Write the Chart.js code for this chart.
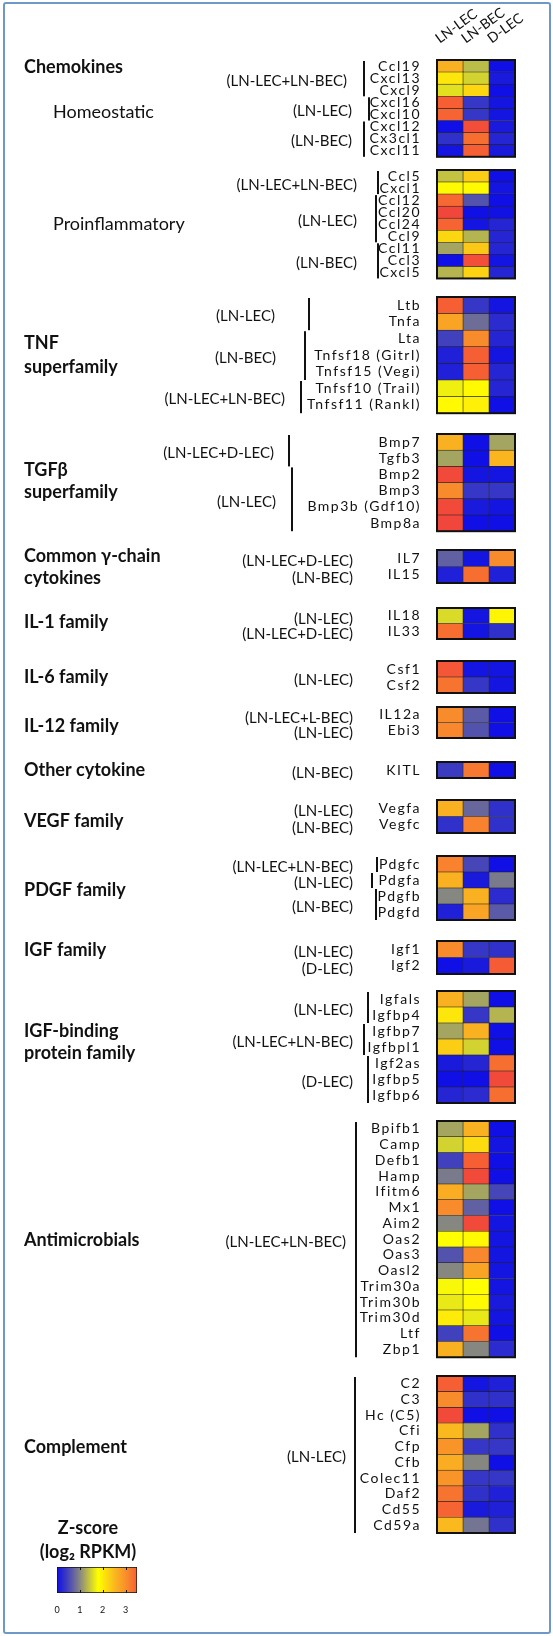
<!DOCTYPE html>
<html>
<head>
<meta charset="utf-8">
<script src="https://cdn.jsdelivr.net/npm/chart.js@4.4.1/dist/chart.umd.min.js"></script>
<style>
  html, body { margin: 0; padding: 0; background: #fff; }
  #page { position: relative; width: 553px; height: 1636px; overflow: hidden; }
  #frame { position: absolute; left: 3px; top: 2px; width: 548px; height: 1632px; box-sizing: border-box;
           border: 2px solid #6f98c8; border-radius: 3px; }
  canvas { position: absolute; left: 0; }
</style>
</head>
<body>
<div id="page"><div id="frame"></div></div>
<script>
// ---- data ----------------------------------------------------------
const columns = ['LN-LEC', 'LN-BEC', 'D-LEC'];

// Z-scores per gene: [LN-LEC, LN-BEC, D-LEC]
const homeoGenes = ['Ccl19', 'Cxcl13', 'Cxcl9', 'Cxcl16', 'Cxcl10', 'Cxcl12', 'Cx3cl1', 'Cxcl11'];
const homeoZ = [[2.6, 1.35, 0], [2.05, 1.5, 0.1], [1.6, 2.2, 0], [3.5, 0.35, 0.05],
                [3.45, 0.35, 0.05], [0, 3.7, 0.1], [0.3, 3.35, 0.2], [0.05, 3.5, 0.1]];
const homeoGroups = [['(LN-LEC+LN-BEC)', 0, 2], ['(LN-LEC)', 3, 4], ['(LN-BEC)', 5, 7]];

const inflamGenes = ['Ccl5', 'Cxcl1', 'Ccl12', 'Ccl20', 'Ccl24', 'Ccl9', 'Ccl11', 'Ccl3', 'Cxcl5'];
const inflamZ = [[1.4, 2.3, 0], [1.85, 1.85, 0.05], [3.4, 0.6, 0], [3.8, 0, 0.02], [3.45, 0.05, 0.2],
                 [2.2, 1.3, 0.2], [1.2, 2.35, 0.2], [0, 3.7, 0.05], [1.3, 2.25, 0.2]];
const inflamGroups = [['(LN-LEC+LN-BEC)', 0, 1], ['(LN-LEC)', 2, 5], ['(LN-BEC)', 6, 8]];

const tnfGenes = ['Ltb', 'Tnfa', 'Lta', 'Tnfsf18 (Gitrl)', 'Tnfsf15 (Vegi)', 'Tnfsf10 (Trail)', 'Tnfsf11 (Rankl)'];
const tnfZ = [[3.5, 0.35, 0.05], [2.75, 0.8, 0.25], [0.45, 3.05, 0.2], [0.15, 3.5, 0.05],
              [0.15, 3.5, 0.2], [1.7, 1.85, 0.2], [1.85, 1.95, 0]];
const tnfGroups = [['(LN-LEC)', 0, 1], ['(LN-BEC)', 2, 4], ['(LN-LEC+LN-BEC)', 5, 6]];

const tgfGenes = ['Bmp7', 'Tgfb3', 'Bmp2', 'Bmp3', 'Bmp3b (Gdf10)', 'Bmp8a'];
const tgfZ = [[2.6, 0, 1.2], [1.2, 0, 2.55], [3.75, 0.05, 0.05], [3.05, 0.35, 0.35], [3.75, 0.1, 0.05], [3.8, 0, 0]];
const tgfGroups = [['(LN-LEC+D-LEC)', 0, 1], ['(LN-LEC)', 2, 5]];

const gammaGenes = ['IL7', 'IL15'];
const gammaZ = [[0.7, 0.05, 3.05], [0.15, 3.35, 0.15]];
const gammaGroups = [['(LN-LEC+D-LEC)', 0, 0], ['(LN-BEC)', 1, 1]];

const il1Genes = ['IL18', 'IL33'];
const il1Z = [[1.55, 0.05, 1.9], [3.35, 0.05, 0.3]];
const il1Groups = [['(LN-LEC)', 0, 0], ['(LN-LEC+D-LEC)', 1, 1]];

const il6Genes = ['Csf1', 'Csf2'];
const il6Z = [[3.6, 0.05, 0.05], [3.3, 0.35, 0.05]];
const il6Groups = [['(LN-LEC)', 0, 1]];

const il12Genes = ['IL12a', 'Ebi3'];
const il12Z = [[3.05, 0.65, 0], [3.1, 0.6, 0]];
const il12Groups = [['(LN-LEC+L-BEC)', 0, 0], ['(LN-LEC)', 1, 1]];

const otherGenes = ['KITL'];
const otherZ = [[0.4, 3.25, 0]];
const otherGroups = [['(LN-BEC)', 0, 0]];

const vegfGenes = ['Vegfa', 'Vegfc'];
const vegfZ = [[2.6, 0.75, 0.3], [0.3, 3.15, 0.3]];
const vegfGroups = [['(LN-LEC)', 0, 0], ['(LN-BEC)', 1, 1]];

const pdgfGenes = ['Pdgfc', 'Pdgfa', 'Pdgfb', 'Pdgfd'];
const pdgfZ = [[3.15, 0.5, 0], [2.6, 0.1, 0.9], [1.0, 2.6, 0.25], [0.15, 2.75, 0.65]];
const pdgfGroups = [['(LN-LEC+LN-BEC)', 0, 0], ['(LN-LEC)', 1, 1], ['(LN-BEC)', 2, 3]];

const igfGenes = ['Igf1', 'Igf2'];
const igfZ = [[3.05, 0.35, 0.3], [0, 0.1, 3.55]];
const igfGroups = [['(LN-LEC)', 0, 0], ['(D-LEC)', 1, 1]];

const igfbpGenes = ['Igfals', 'Igfbp4', 'Igfbp7', 'Igfbpl1', 'Igf2as', 'Igfbp5', 'Igfbp6'];
const igfbpZ = [[2.6, 1.2, 0], [2.05, 0.35, 1.3], [1.2, 2.6, 0], [2.3, 1.5, 0],
                [0.1, 0.2, 3.35], [0, 0, 3.75], [0.2, 0.25, 3.35]];
const igfbpGroups = [['(LN-LEC)', 0, 1], ['(LN-LEC+LN-BEC)', 2, 3], ['(D-LEC)', 4, 6]];

const antiGenes = ['Bpifb1', 'Camp', 'Defb1', 'Hamp', 'Ifitm6', 'Mx1', 'Aim2', 'Oas2', 'Oas3', 'Oasl2',
                   'Trim30a', 'Trim30b', 'Trim30d', 'Ltf', 'Zbp1'];
const antiZ = [[1.2, 2.6, 0], [1.5, 2.15, 0.05], [0.45, 3.5, 0], [0.9, 3.75, 0], [2.65, 1.2, 0.5],
               [3.05, 0.7, 0], [1.0, 3.75, 0.05], [1.8, 1.85, 0.05], [0.6, 3.1, 0.05], [1.0, 2.75, 0.05],
               [1.75, 1.8, 0.05], [1.65, 1.85, 0.1], [2.0, 1.65, 0.05], [0.45, 3.3, 0], [2.6, 1.0, 0.25]];
const antiGroups = [['(LN-LEC+LN-BEC)', 0, 14]];

const complGenes = ['C2', 'C3', 'Hc (C5)', 'Cfi', 'Cfp', 'Cfb', 'Colec11', 'Daf2', 'Cd55', 'Cd59a'];
const complZ = [[3.5, 0.05, 0.15], [3.05, 0.3, 0.3], [3.75, 0, 0], [2.5, 1.2, 0.3], [2.95, 0.35, 0.35],
                [2.65, 1.0, 0], [2.95, 0.35, 0.35], [3.3, 0.3, 0.15], [3.45, 0.1, 0.15], [2.5, 0.85, 0.3]];
const complGroups = [['(LN-LEC)', 0, 9]];

const colorbarTicks = [0, 1, 2, 3];
const colorbarMax = 3.5;

// colour scale (blue -> grey -> yellow -> orange -> red)
const zStops = [0, 0.5, 1.0, 1.8, 2.5, 3.1, 3.5, 3.9];
const zColors = [[15, 15, 230], [70, 70, 185], [135, 135, 130], [255, 255, 0],
                 [250, 185, 30], [248, 135, 45], [246, 95, 52], [238, 62, 62]];

function zColor(v) {
  if (v <= zStops[0]) return 'rgb(' + zColors[0].join(',') + ')';
  for (let i = 1; i < zStops.length; i++) {
    if (v <= zStops[i]) {
      const t = (v - zStops[i - 1]) / (zStops[i] - zStops[i - 1]);
      const a = zColors[i - 1], b = zColors[i];
      return 'rgb(' + a.map((c, k) => Math.round(c + (b[k] - c) * t)).join(',') + ')';
    }
  }
  return 'rgb(' + zColors[zColors.length - 1].join(',') + ')';
}

// ---- layout: block position, labels, brackets ------------------------
const blocks = [
  { genes: homeoGenes, z: homeoZ, groups: homeoGroups, top: 60, rowH: 12.1,
    labelX: [347, 352, 352], barX: [364, 369, 364],
    heads: [['Chemokines', 24, 67, true], ['Homeostatic', 53, 112, false]] },
  { genes: inflamGenes, z: inflamZ, groups: inflamGroups, top: 170, rowH: 12.05,
    labelX: [357, 357, 357], barX: [378, 376, 378],
    heads: [['Proinflammatory', 53, 224, false]] },
  { genes: tnfGenes, z: tnfZ, groups: tnfGroups, top: 297, rowH: 16.6,
    labelX: [275, 276, 285], barX: [309, 305, 301],
    heads: [['TNF', 24, 343, true], ['superfamily', 24, 367, true]] },
  { genes: tgfGenes, z: tgfZ, groups: tgfGroups, top: 434, rowH: 16.2,
    labelX: [274, 276], barX: [289, 292],
    heads: [['TGFβ', 24, 470, true], ['superfamily', 24, 492, true]] },
  { genes: gammaGenes, z: gammaZ, groups: gammaGroups, top: 550, rowH: 16.5,
    labelX: [353, 353], barX: null,
    heads: [['Common γ-chain', 24, 556, true], ['cytokines', 24, 578, true]] },
  { genes: il1Genes, z: il1Z, groups: il1Groups, top: 608, rowH: 15.5,
    labelX: [353, 353], barX: null, heads: [['IL-1 family', 24, 622, true]] },
  { genes: il6Genes, z: il6Z, groups: il6Groups, top: 661, rowH: 16,
    labelX: [353], barX: null, heads: [['IL-6 family', 24, 677, true]] },
  { genes: il12Genes, z: il12Z, groups: il12Groups, top: 707, rowH: 15.5,
    labelX: [353, 353], barX: null, heads: [['IL-12 family', 24, 726, true]] },
  { genes: otherGenes, z: otherZ, groups: otherGroups, top: 762, rowH: 16,
    labelX: [353], barX: null, heads: [['Other cytokine', 24, 770, true]] },
  { genes: vegfGenes, z: vegfZ, groups: vegfGroups, top: 800, rowH: 16.5,
    labelX: [353, 353], barX: null, heads: [['VEGF family', 24, 821, true]] },
  { genes: pdgfGenes, z: pdgfZ, groups: pdgfGroups, top: 856, rowH: 16,
    labelX: [353, 353, 353], barX: [377, 372, 376], heads: [['PDGF family', 24, 890, true]] },
  { genes: igfGenes, z: igfZ, groups: igfGroups, top: 941, rowH: 16.5,
    labelX: [353, 353], barX: null, heads: [['IGF family', 24, 950, true]] },
  { genes: igfbpGenes, z: igfbpZ, groups: igfbpGroups, top: 991, rowH: 16,
    labelX: [353, 353, 353], barX: [368, 364, 368],
    heads: [['IGF-binding', 24, 1031, true], ['protein family', 24, 1053, true]] },
  { genes: antiGenes, z: antiZ, groups: antiGroups, top: 1121, rowH: 15.75,
    labelX: [346], barX: [356], heads: [['Antimicrobials', 24, 1240, true]] },
  { genes: complGenes, z: complZ, groups: complGroups, top: 1376, rowH: 15.7,
    labelX: [346], barX: [355], heads: [['Complement', 24, 1447, true]] }
];

const HEAT_LEFT = 437, HEAT_RIGHT = 515, PAGE_W = 553, PAD = 18;

Chart.defaults.font.family = 'Lato, "Open Sans", sans-serif';
Chart.defaults.color = '#111';

const page = document.getElementById('page');

function makeBlock(b, idx) {
  const n = b.genes.length;
  const areaH = n * b.rowH;
  const canvasTop = idx === 0 ? 0 : Math.round(b.top - PAD);
  const height = Math.ceil(b.top + areaH + PAD - canvasTop);
  const padTop = idx === 0 ? 0 : b.top - canvasTop;
  const padBottom = height - (b.top - canvasTop) - areaH;

  const canvas = document.createElement('canvas');
  canvas.width = PAGE_W;
  canvas.height = height;
  canvas.style.top = canvasTop + 'px';
  page.appendChild(canvas);

  const scales = {
    x: { type: 'linear', min: 0, max: 3, display: false },
    y: {
      type: 'category', offset: true,
      grid: { display: false }, border: { display: false },
      ticks: { autoSkip: false, padding: 8, font: { size: 14 }, color: '#111' },
      afterFit: s => { s.width = HEAT_LEFT; }
    }
  };
  if (idx === 0) {
    scales.top = {
      type: 'category', labels: columns, position: 'top', offset: true,
      grid: { display: false }, border: { display: false },
      ticks: { autoSkip: false, minRotation: 36, maxRotation: 36, padding: 5, labelOffset: -3,
               font: { size: 14 }, color: '#111', z: 1 },
      afterFit: s => { s.height = b.top; }
    };
  }

  const deco = {
    id: 'deco',
    beforeDraw(chart) { chart.ctx.letterSpacing = '1.5px'; },
    beforeDatasetsDraw(chart) { chart.ctx.letterSpacing = '0px'; },
    afterDraw(chart) {
      const ctx = chart.ctx, a = chart.chartArea, ys = chart.scales.y;
      const half = (a.bottom - a.top) / n / 2;
      ctx.save();
      ctx.letterSpacing = '0px';
      ctx.strokeStyle = '#111';
      ctx.lineWidth = 2;
      ctx.strokeRect(a.left, a.top, a.right - a.left, a.bottom - a.top);

      ctx.fillStyle = '#111';
      ctx.font = '15px Lato, sans-serif';
      ctx.textAlign = 'right';
      ctx.textBaseline = 'middle';
      b.groups.forEach(([label, r0, r1], i) => {
        const y0 = ys.getPixelForValue(r0) - half;
        const y1 = ys.getPixelForValue(r1) + half;
        ctx.fillText(label, b.labelX[i], (y0 + y1) / 2 + 3);
        if (b.barX) ctx.fillRect(b.barX[i] - 1, y0 + 1, 2, y1 - y0 - 1);
      });

      ctx.textAlign = 'left';
      b.heads.forEach(([text, x, y, bold]) => {
        ctx.font = (bold ? 'bold ' : '') + '18px Lato, sans-serif';
        ctx.fillText(text, x, y - canvasTop);
      });
      ctx.restore();
    }
  };

  new Chart(canvas, {
    type: 'bar',
    data: {
      labels: b.genes,
      datasets: columns.map((name, c) => ({
        label: name,
        data: b.genes.map(() => [c, c + 1]),
        backgroundColor: ctx => zColor(b.z[ctx.dataIndex][c]),
        borderColor: '#222',
        borderWidth: 0.6,
        borderSkipped: false,
        grouped: false,
        barPercentage: 1,
        categoryPercentage: 1,
        xAxisID: 'x',
        yAxisID: 'y'
      }))
    },
    options: {
      indexAxis: 'y',
      responsive: false,
      animation: false,
      events: [],
      devicePixelRatio: 1,
      layout: { padding: { top: padTop, bottom: padBottom, left: 0, right: PAGE_W - HEAT_RIGHT } },
      scales,
      plugins: { legend: { display: false }, tooltip: { enabled: false } }
    },
    plugins: [deco]
  });
}

blocks.forEach(makeBlock);

// ---- colour bar --------------------------------------------------------
(function () {
  const canvasTop = 1510;
  const canvas = document.createElement('canvas');
  canvas.width = 180;
  canvas.height = 106;
  canvas.style.top = canvasTop + 'px';
  page.appendChild(canvas);

  const barDeco = {
    id: 'barDeco',
    afterDraw(chart) {
      const ctx = chart.ctx, a = chart.chartArea, xs = chart.scales.x;
      ctx.save();
      ctx.strokeStyle = '#111';
      ctx.lineWidth = 1;
      colorbarTicks.slice(1).forEach(v => {
        const px = Math.round(xs.getPixelForValue(v)) + 0.5;
        ctx.beginPath();
        ctx.moveTo(px, a.top); ctx.lineTo(px, a.top + 3);
        ctx.moveTo(px, a.bottom); ctx.lineTo(px, a.bottom - 3);
        ctx.stroke();
      });
      ctx.fillStyle = '#111';
      ctx.textAlign = 'center';
      ctx.textBaseline = 'middle';
      ctx.font = 'bold 18px Lato, sans-serif';
      ctx.fillText('Z-score', 88, 1528 - canvasTop);
      ctx.fillText('(log₂ RPKM)', 88, 1552 - canvasTop);
      ctx.restore();
    }
  };

  new Chart(canvas, {
    type: 'bar',
    data: {
      labels: ['Z-score'],
      datasets: [{
        data: [[0, colorbarMax]],
        backgroundColor: c => {
          const chart = c.chart, xs = chart.scales.x;
          if (!chart.chartArea || !xs) return zColor(1.8);
          const x0 = xs.getPixelForValue(0), x1 = xs.getPixelForValue(colorbarMax);
          const g = chart.ctx.createLinearGradient(x0, 0, x1, 0);
          zStops.filter(s => s <= colorbarMax).forEach(s => g.addColorStop(s / colorbarMax, zColor(s)));
          g.addColorStop(1, zColor(colorbarMax));
          return g;
        },
        borderColor: '#111',
        borderWidth: 1,
        borderSkipped: false,
        barPercentage: 1,
        categoryPercentage: 1
      }]
    },
    options: {
      indexAxis: 'y',
      responsive: false,
      animation: false,
      events: [],
      devicePixelRatio: 1,
      layout: { padding: { top: 57, bottom: 0, left: 57, right: 180 - 137 } },
      scales: {
        x: {
          type: 'linear', min: 0, max: colorbarMax,
          grid: { display: false }, border: { display: false },
          afterBuildTicks: s => { s.ticks = colorbarTicks.map(v => ({ value: v })); },
          ticks: { padding: 4, font: { size: 9 }, color: '#111' },
          afterFit: s => { s.height = 106 - 57 - 26; }
        },
        y: { type: 'category', display: false, offset: true }
      },
      plugins: { legend: { display: false }, tooltip: { enabled: false } }
    },
    plugins: [barDeco]
  });
})();
</script>
</body>
</html>
